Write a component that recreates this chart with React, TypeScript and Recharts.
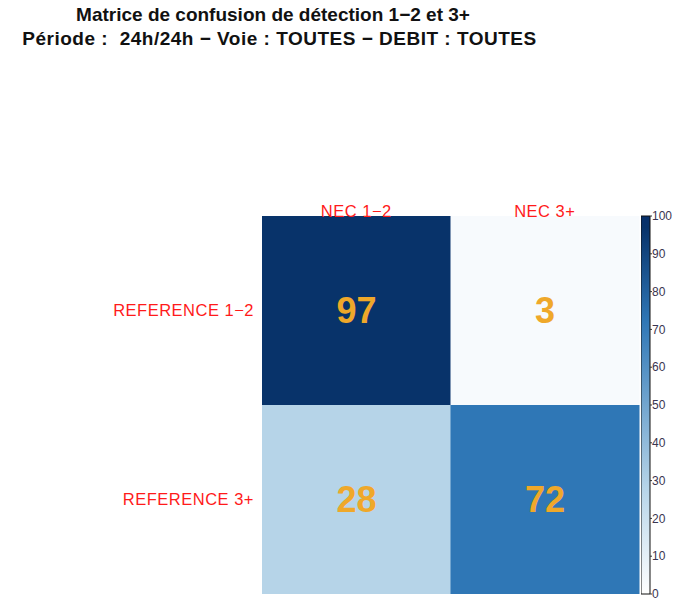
import React from "react";
import { BarChart, Bar, XAxis, YAxis, Cell, LabelList } from "recharts";

const columns = ["NEC 1−2", "NEC 3+"];
const rowLabels = ["REFERENCE 1−2", "REFERENCE 3+"];
const topRowValues = [97, 3];
const bottomRowValues = [28, 72];
const colorbarTicks = [0, 10, 20, 30, 40, 50, 60, 70, 80, 90, 100];
const titleLines = [
  "Matrice de confusion de détection 1−2 et 3+",
  "Période :  24h/24h − Voie : TOUTES − DEBIT : TOUTES",
];

const palette: [number, string][] = [
  [0, "#ffffff"],
  [3, "#f7fafd"],
  [28, "#b6d4e8"],
  [72, "#2f77b6"],
  [97, "#08336a"],
  [100, "#08306b"],
];

function hexToRgb(h: string) {
  const n = parseInt(h.slice(1), 16);
  return [(n >> 16) & 255, (n >> 8) & 255, n & 255];
}
function colorFor(v: number) {
  for (let i = 0; i < palette.length - 1; i++) {
    const [a, ca] = palette[i];
    const [b, cb] = palette[i + 1];
    if (v >= a && v <= b) {
      const t = b === a ? 0 : (v - a) / (b - a);
      const x = hexToRgb(ca);
      const y = hexToRgb(cb);
      const m = x.map((c, k) => Math.round(c + (y[k] - c) * t));
      return `rgb(${m[0]},${m[1]},${m[2]})`;
    }
  }
  return palette[palette.length - 1][1];
}

const matrixData = columns.map((c, i) => ({
  col: c,
  bottom: 1,
  top: 1,
  bottomVal: bottomRowValues[i],
  topVal: topRowValues[i],
}));

const colorbarData = [{ name: "scale", value: 100 }];

const FONT = "Liberation Sans, Arial, sans-serif";
const numColor = "#efa82a";
const labelTick = { fill: "#ff1a1a", fontSize: 16.5, fontFamily: FONT, letterSpacing: 0.5 };
const titleStyle: React.CSSProperties = {
  position: "absolute",
  left: 0,
  textAlign: "center",
  fontWeight: "bold",
  fontSize: 19,
  lineHeight: "24px",
  color: "#111",
  whiteSpace: "pre",
};

export default function App() {
  return (
    <div style={{ position: "absolute", left: 0, top: 0, width: 685, height: 603, background: "#fff", fontFamily: FONT }}>
      <div style={{ ...titleStyle, top: 3, width: 546 }}>{titleLines[0]}</div>
      <div style={{ ...titleStyle, top: 27, width: 559, letterSpacing: 0.5 }}>{titleLines[1]}</div>
      <div style={{ position: "absolute", left: 0, top: 0 }}>
        <BarChart
          width={685}
          height={603}
          data={matrixData}
          margin={{ top: 196, left: 102, right: 46, bottom: 9 }}
          barCategoryGap={0}
          barGap={0}
        >
          <XAxis
            dataKey="col"
            orientation="top"
            height={20}
            axisLine={false}
            tickLine={false}
            tickSize={0}
            tickMargin={-1}
            interval={0}
            tick={labelTick}
          />
          <YAxis
            type="number"
            domain={[0, 2]}
            ticks={[0.5, 1.5]}
            width={160}
            axisLine={false}
            tickLine={false}
            tickSize={0}
            tickMargin={8}
            interval={0}
            tickFormatter={(v: number) => (v > 1 ? rowLabels[0] : rowLabels[1])}
            tick={labelTick}
          />
          <Bar dataKey="bottom" stackId="m" isAnimationActive={false}>
            {matrixData.map((d, i) => (
              <Cell key={"b" + i} fill={colorFor(d.bottomVal)} />
            ))}
            <LabelList dataKey="bottomVal" position="center" fill={numColor} fontSize={36} fontWeight="bold" fontFamily={FONT} />
          </Bar>
          <Bar dataKey="top" stackId="m" isAnimationActive={false}>
            {matrixData.map((d, i) => (
              <Cell key={"t" + i} fill={colorFor(d.topVal)} />
            ))}
            <LabelList dataKey="topVal" position="center" fill={numColor} fontSize={36} fontWeight="bold" fontFamily={FONT} />
          </Bar>
        </BarChart>
      </div>
      <div style={{ position: "absolute", left: 641, top: 0 }}>
        <BarChart
          width={44}
          height={603}
          data={colorbarData}
          margin={{ top: 216, left: 0, right: 0, bottom: 9 }}
          barCategoryGap={0}
        >
          <defs>
            <linearGradient id="cbar" x1="0" y1="1" x2="0" y2="0">
              {palette.map(([v, c]) => (
                <stop key={v} offset={`${v}%`} stopColor={c} />
              ))}
            </linearGradient>
          </defs>
          <XAxis dataKey="name" hide />
          <YAxis
            orientation="right"
            type="number"
            domain={[0, 100]}
            ticks={colorbarTicks}
            interval={0}
            width={35}
            axisLine={false}
            tickLine={{ stroke: "#333" }}
            tickSize={2}
            tickMargin={0}
            tick={{ fill: "#3a3550", fontSize: 12, fontFamily: FONT }}
          />
          <Bar dataKey="value" fill="url(#cbar)" stroke="#111" strokeWidth={1} isAnimationActive={false} />
        </BarChart>
      </div>
    </div>
  );
}
